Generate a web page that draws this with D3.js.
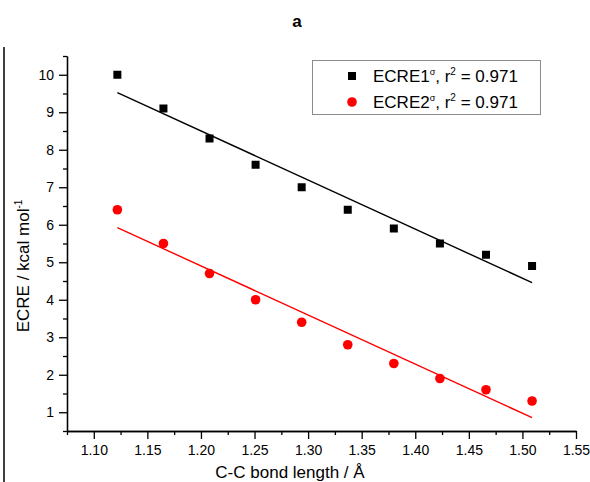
<!DOCTYPE html>
<html>
<head>
<meta charset="utf-8">
<script src="https://cdn.jsdelivr.net/npm/d3@7"></script>
<style>
  body { margin: 0; background: #fff; }
  svg { display: block; font-family: "Liberation Sans", Arial, sans-serif; }
</style>
</head>
<body>
<svg id="chart" width="590" height="482"></svg>
<script>
// bond lengths (Å) and ECRE values (kcal/mol)
var bondLength = [1.122, 1.165, 1.208, 1.251, 1.294, 1.337, 1.380, 1.423, 1.466, 1.509];
var ecre1 = [10.0, 9.1, 8.3, 7.6, 7.0, 6.4, 5.9, 5.5, 5.2, 4.9];
var ecre2 = [6.4, 5.5, 4.7, 4.0, 3.4, 2.8, 2.3, 1.9, 1.6, 1.3];
var xTicks = [1.10, 1.15, 1.20, 1.25, 1.30, 1.35, 1.40, 1.45, 1.50, 1.55];
var yTicks = [1, 2, 3, 4, 5, 6, 7, 8, 9, 10];
var seriesNames = ['ECRE1', 'ECRE2'];
var rSquared = ['0.971', '0.971'];

var drawChart = (function(){

  var svg = d3.select('#chart'),
  left = 67,
  right = 576,
  top = 56,
  bottom = 431,
  fontFamily = '"Liberation Sans", Arial, sans-serif';

  var x = d3.scaleLinear()
    .domain([1.075, 1.55])
    .range([left, right]);

  var y = d3.scaleLinear()
    .domain([0.5, 10.5])
    .range([bottom, top]);

  // least squares fit, like the software did
  function fit(xs, ys) {
    var mx = d3.mean(xs), my = d3.mean(ys);
    var sxy = 0, sxx = 0;
    for (var i = 0; i < xs.length; i++) {
      sxy += (xs[i] - mx) * (ys[i] - my);
      sxx += (xs[i] - mx) * (xs[i] - mx);
    }
    var b = sxy / sxx;
    return function(v) { return my + b * (v - mx); };
  }

  function minorTicks(lo, hi, step) {
    var arr = [];
    for (var v = lo; v <= hi + 1e-9; v += step) {
      arr.push(+v.toFixed(4));
    }
    return arr;
  }

  // frame line on the left
  svg.append('line')
    .attr('x1', 4).attr('x2', 4)
    .attr('y1', 47).attr('y2', 482)
    .attr('stroke', '#000')
    .attr('stroke-width', 1.5);

  // title
  svg.append('text')
    .attr('x', 297)
    .attr('y', 27)
    .attr('text-anchor', 'middle')
    .style('font-weight', 'bold')
    .style('font-size', '17px')
    .text('a');

  // axes
  var xMinor = svg.append('g')
    .attr('transform', 'translate(0,' + bottom + ')')
    .call(d3.axisBottom(x)
      .tickValues(minorTicks(1.075, 1.525, 0.05))
      .tickSize(4).tickSizeOuter(0).tickFormat(''));

  var xAxis = svg.append('g')
    .attr('transform', 'translate(0,' + bottom + ')')
    .call(d3.axisBottom(x)
      .tickValues(xTicks)
      .tickSize(8).tickSizeOuter(0).tickPadding(6)
      .tickFormat(d3.format('.2f')));

  var yMinor = svg.append('g')
    .attr('transform', 'translate(' + left + ',0)')
    .call(d3.axisLeft(y)
      .tickValues(minorTicks(0.5, 10.5, 1))
      .tickSize(4).tickSizeOuter(0).tickFormat(''));

  var yAxis = svg.append('g')
    .attr('transform', 'translate(' + left + ',0)')
    .call(d3.axisLeft(y)
      .tickValues(yTicks)
      .tickSize(8).tickSizeOuter(0).tickPadding(5));

  svg.selectAll('.tick line, .domain')
    .attr('stroke', '#000')
    .attr('stroke-width', 1.3);

  svg.selectAll('.tick text')
    .style('font-family', fontFamily)
    .style('font-size', '14px')
    .attr('fill', '#000');

  // axis titles
  svg.append('text')
    .attr('x', 290)
    .attr('y', 478)
    .attr('text-anchor', 'middle')
    .style('font-size', '17px')
    .text('C-C bond length / Å');

  var yTitle = svg.append('text')
    .attr('transform', 'translate(29,266) rotate(-90)')
    .attr('text-anchor', 'middle')
    .style('font-size', '17px');
  yTitle.append('tspan').text('ECRE / kcal mol');
  yTitle.append('tspan')
    .attr('dy', -7)
    .style('font-size', '10px')
    .text('-1');

  // fit lines
  var fit1 = fit(bondLength, ecre1),
  fit2 = fit(bondLength, ecre2),
  xEnds = d3.extent(bondLength);

  svg.append('line')
    .attr('x1', x(xEnds[0])).attr('y1', y(fit1(xEnds[0])))
    .attr('x2', x(xEnds[1])).attr('y2', y(fit1(xEnds[1])))
    .attr('stroke', '#000')
    .attr('stroke-width', 1.4);

  svg.append('line')
    .attr('x1', x(xEnds[0])).attr('y1', y(fit2(xEnds[0])))
    .attr('x2', x(xEnds[1])).attr('y2', y(fit2(xEnds[1])))
    .attr('stroke', '#ff0000')
    .attr('stroke-width', 1.4);

  // points
  svg.selectAll('rect.p1')
    .data(ecre1)
    .enter()
    .append('rect')
    .attr('class', 'p1')
    .attr('x', function(d, i) { return x(bondLength[i]) - 4; })
    .attr('y', function(d) { return y(d) - 4; })
    .attr('width', 8)
    .attr('height', 8)
    .style('fill', '#000');

  svg.selectAll('circle.p2')
    .data(ecre2)
    .enter()
    .append('circle')
    .attr('class', 'p2')
    .attr('cx', function(d, i) { return x(bondLength[i]); })
    .attr('cy', function(d) { return y(d); })
    .attr('r', 4.8)
    .style('fill', '#ff0000');

  // legend
  var legend = svg.append('g');

  legend.append('rect')
    .attr('x', 312.5)
    .attr('y', 60.5)
    .attr('width', 228)
    .attr('height', 54)
    .attr('fill', '#fff')
    .attr('stroke', '#8c8c8c')
    .attr('stroke-width', 1);

  legend.append('rect')
    .attr('x', 348).attr('y', 72)
    .attr('width', 8).attr('height', 8)
    .style('fill', '#000');

  legend.append('circle')
    .attr('cx', 352).attr('cy', 102)
    .attr('r', 4.8)
    .style('fill', '#ff0000');

  seriesNames.forEach(function(name, i){
    var t = legend.append('text')
      .attr('x', 373)
      .attr('y', 82 + i * 26)
      .style('font-size', '17px');
    t.append('tspan').text(name);
    t.append('tspan').attr('dy', -7).style('font-size', '9px').text('σ');
    t.append('tspan').attr('dy', 7).text(', r');
    t.append('tspan').attr('dy', -7).style('font-size', '10px').text('2');
    t.append('tspan').attr('dy', 7).text(' = ' + rSquared[i]);
  });

})();
</script>
</body>
</html>
